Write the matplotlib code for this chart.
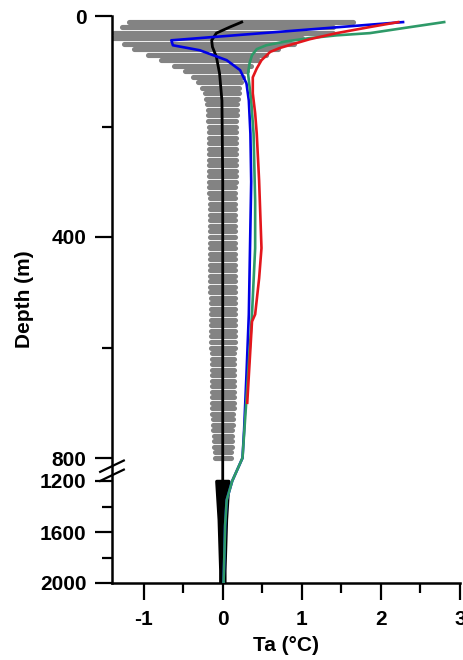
import numpy as np
from matplotlib import pyplot as plt

plt.rcParams['font.family'] = ['Liberation Sans', 'DejaVu Sans']
plt.rcParams['font.weight'] = 'bold'

# spread of the ensemble: one bar every 10 m, 10 .. 800 m
arrBarDepth = np.arange(10, 810, 10)
lstBarLeft = [
    -1.18, -1.27, -1.37, -1.40, -1.25, -1.12, -0.95, -0.78, -0.62, -0.48,
    -0.38, -0.31, -0.26, -0.23, -0.21, -0.20, -0.19, -0.18, -0.18, -0.17,
    -0.17, -0.17, -0.17, -0.17, -0.17, -0.17, -0.17, -0.17, -0.17, -0.17,
    -0.17, -0.17, -0.16, -0.16, -0.16, -0.16, -0.16, -0.16, -0.16, -0.16,
    -0.16, -0.16, -0.16, -0.16, -0.16, -0.16, -0.16, -0.16, -0.16, -0.16,
    -0.15, -0.15, -0.15, -0.15, -0.15, -0.15, -0.15, -0.15, -0.15, -0.15,
    -0.14, -0.14, -0.14, -0.14, -0.14, -0.14, -0.14, -0.14, -0.14, -0.14,
    -0.13, -0.13, -0.12, -0.12, -0.12, -0.11, -0.11, -0.11, -0.10, -0.10,
]
lstBarRight = [
    1.65, 1.40, 1.40, 1.00, 0.90, 0.70, 0.55, 0.45, 0.36, 0.31,
    0.26, 0.23, 0.21, 0.20, 0.19, 0.18, 0.18, 0.18, 0.17, 0.17,
    0.17, 0.17, 0.17, 0.17, 0.17, 0.17, 0.17, 0.17, 0.17, 0.17,
    0.16, 0.16, 0.16, 0.16, 0.16, 0.16, 0.16, 0.16, 0.16, 0.16,
    0.16, 0.16, 0.16, 0.16, 0.16, 0.16, 0.16, 0.16, 0.16, 0.16,
    0.15, 0.15, 0.15, 0.15, 0.15, 0.15, 0.15, 0.15, 0.15, 0.15,
    0.14, 0.14, 0.14, 0.14, 0.14, 0.14, 0.14, 0.14, 0.14, 0.14,
    0.14, 0.13, 0.13, 0.13, 0.12, 0.12, 0.12, 0.12, 0.11, 0.11,
]

# spread below 1200 m
lstDeepDepth = [1200, 1300, 1400, 1500, 1600, 1700, 1800, 1900, 2000]
lstDeepLeft = [-0.08, -0.07, -0.06, -0.05, -0.045, -0.04, -0.035, -0.03, -0.03]
lstDeepRight = [0.07, 0.06, 0.05, 0.04, 0.035, 0.03, 0.025, 0.02, 0.02]

# ensemble mean
lstMeanDepth = [11, 20, 31, 44, 56, 74, 104, 153, 300, 500, 800, 1200, 2000]
lstMeanTa = [0.24, 0.09, -0.08, -0.14, -0.13, -0.08, -0.04, -0.01, 0.0, 0.0, 0.0, 0.0, 0.0]

lstBlueDepth = [11, 44, 53, 62, 80, 98, 122, 153, 213, 300, 540, 650, 750, 800,
                1200, 1350, 1550, 1800, 2000]
lstBlueTa = [2.28, -0.65, -0.63, -0.29, 0.05, 0.22, 0.30, 0.33, 0.35, 0.36, 0.33, 0.30, 0.27, 0.25,
             0.12, 0.05, 0.03, 0.02, 0.01]

lstGreenDepth = [11, 22, 31, 35, 40, 46, 53, 60, 71, 85, 104, 153, 213, 335, 420, 540, 693, 800,
                 1200, 1350, 1550, 1800, 2000]
lstGreenTa = [2.80, 2.28, 1.86, 1.44, 1.10, 0.80, 0.55, 0.43, 0.37, 0.34, 0.32, 0.36, 0.39, 0.41,
              0.41, 0.37, 0.30, 0.25, 0.12, 0.05, 0.03, 0.02, 0.01]

lstRedDepth = [11, 20, 31, 42, 52, 58, 65, 80, 95, 111, 140, 176, 213, 298, 420, 475, 540, 553, 700]
lstRedTa = [2.22, 1.86, 1.44, 1.10, 0.86, 0.72, 0.60, 0.49, 0.43, 0.38, 0.38, 0.41, 0.43, 0.46,
            0.49, 0.46, 0.41, 0.37, 0.31]

# broken depth axis: 0-800 m stretched, 800-1200 m squeezed, 1200-2000 m compressed
arrScaleDepth = np.array([-10000, 0, 800, 1200, 2000, 100000])
arrScalePos = np.array([-5525, 0, 442, 465, 567, 13062])


def depthFwd(d):
    return np.interp(d, arrScaleDepth, arrScalePos)


def depthInv(p):
    return np.interp(p, arrScalePos, arrScaleDepth)


fig = plt.figure(figsize=(4.63, 6.60), dpi=100)
ax = fig.add_axes([112 / 463, 77 / 660, 348 / 463, 567 / 660])
ax.set_yscale('function', functions=(depthFwd, depthInv))

ax.hlines(arrBarDepth, lstBarLeft, lstBarRight, colors='#838383', linewidth=3.7,
          capstyle='round', zorder=1)
ax.fill_betweenx(lstDeepDepth, lstDeepLeft, lstDeepRight, color='black', lw=2.5,
                 joinstyle='round', zorder=1)

ax.plot(lstMeanTa, lstMeanDepth, color='black', lw=2.0, zorder=2)
ax.plot(lstBlueTa, lstBlueDepth, color='#0000e6', lw=1.9, zorder=3)
ax.plot(lstGreenTa, lstGreenDepth, color='#2e9a68', lw=1.9, zorder=4)
ax.plot(lstRedTa, lstRedDepth, color='#e3161c', lw=1.9, zorder=5)

ax.set_xlim(-1.4, 3.0)
ax.set_ylim(2000, 0)

ax.set_xticks([-1, 0, 1, 2, 3])
ax.set_xticks([-0.5, 0.5, 1.5, 2.5], minor=True)
ax.set_xticklabels(['-1', '0', '1', '2', '3'])
ax.set_yticks([0, 400, 800, 1200, 1600, 2000])
ax.set_yticks([200, 600, 1400, 1800], minor=True)
ax.set_yticklabels(['0', '400', '800', '1200', '1600', '2000'])

for side in ['top', 'right']:
    ax.spines[side].set_visible(False)
for side in ['left', 'bottom']:
    ax.spines[side].set_linewidth(1.8)

ax.tick_params(which='major', length=12.5, width=1.6, labelsize=15)
ax.tick_params(which='minor', length=7, width=1.6)
ax.tick_params(axis='x', which='major', pad=7)
ax.tick_params(axis='y', which='major', pad=6)

ax.set_xlabel('Ta (°C)', fontsize=15, fontweight='bold')
ax.set_ylabel('Depth (m)', fontsize=15, fontweight='bold')
ax.xaxis.set_label_coords(0.5, -0.093)
ax.yaxis.set_label_coords(-0.225, 0.5)

# axis break marks between 800 and 1200 m
for y0 in [0.180, 0.196]:
    ax.plot([-0.034, 0.034], [y0, y0 + 0.020], transform=ax.transAxes,
            color='black', lw=1.6, clip_on=False, zorder=6)

plt.savefig('out.png', dpi=100)
